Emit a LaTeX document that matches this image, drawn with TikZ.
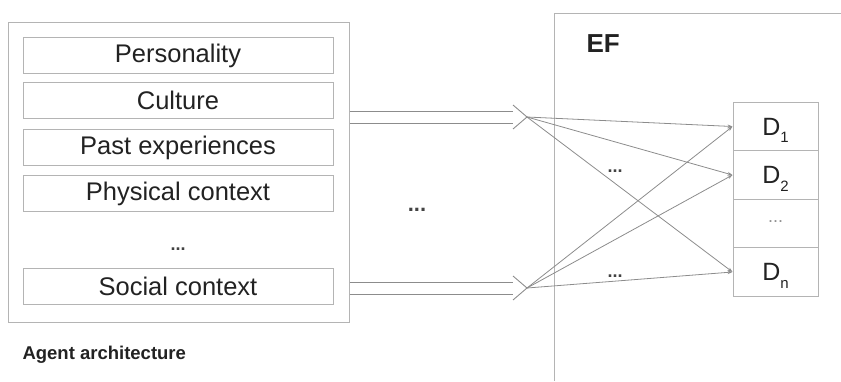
\documentclass[tikz,border=0pt]{standalone}
\usepackage{fontspec}
\setmainfont{Liberation Sans}
\usetikzlibrary{arrows.meta,calc}
\definecolor{boxline}{HTML}{B4B4B4}
\definecolor{arrline}{HTML}{8C8C8C}
\definecolor{ink}{HTML}{222222}
% lowered index for the decision labels
\newcommand{\dindex}[1]{\raisebox{-0.3em}{\fontsize{15}{16}\selectfont #1}}
\tikzset{
  frame/.style={draw=boxline, line width=1pt, rectangle, inner sep=0pt},
  factor/.style={frame, minimum width=310pt, minimum height=36pt,
    font=\fontsize{25.5}{28}\selectfont, text=ink},
  dcell/.style={frame, minimum width=85pt, minimum height=48.5pt},
  dtext/.style={font=\fontsize{25}{28}\selectfont, text=ink},
  dots/.style={font=\fontsize{22}{24}\selectfont\bfseries, text=ink!85},
  smalldots/.style={font=\fontsize{18}{20}\selectfont\bfseries, text=ink!85},
  fat/.style={draw=arrline, line width=0.9pt, line join=miter},
  link/.style={draw=arrline, line width=0.8pt, -{Stealth[length=5pt,width=3.5pt]}},
}
\begin{document}
\begin{tikzpicture}[x=1pt, y=-1pt]
  \useasboundingbox (0,0) rectangle (841,381);

  % agent architecture
  \node[frame, minimum width=341pt, minimum height=300pt] (agent) at (178.5,172) {};
  \node[factor] (pers) at (178,55.5) {Personality};
  \node[factor] (cult) at (178,100.5) {Culture};
  \node[factor] (past) at (178,147.5) {Past experiences};
  \node[factor] (phys) at (178,193.5) {Physical context};
  \node[smalldots] (adots) at (178,249) {...};
  \node[factor] (soc) at (178,286.5) {Social context};
  \node[anchor=west, font=\fontsize{18.5}{20}\selectfont\bfseries, text=ink] (alabel) at (19,355) {Agent architecture};

  % gap between the two parts
  \node[dots] (mdots) at (417,210) {...};

  % EF frame, open towards the page edges
  \draw[draw=boxline, line width=1pt] (554,381) -- (554,13) -- (841,13);
  \node[anchor=west, font=\fontsize{26}{28}\selectfont\bfseries, text=ink] (ef) at (583,44) {EF};

  % decision cells
  \node[dcell] (d1) at (775.5,126.5) {};
  \node[dcell] (d2) at (775.5,175) {};
  \node[dcell] (dd) at (775.5,223.5) {};
  \node[dcell] (dn) at (775.5,272) {};
  \node[dtext] (t1) at ([yshift=-4pt]d1.center) {D\dindex{1}};
  \node[dtext] (t2) at ([yshift=-4pt]d2.center) {D\dindex{2}};
  \node[font=\fontsize{18}{20}\selectfont, text=ink!50] (td) at ([yshift=2pt]dd.center) {...};
  \node[dtext] (tn) at ([yshift=-4pt]dn.center) {D\dindex{n}};

  % hollow arrow tips
  \coordinate (tipA) at (527,117);
  \coordinate (tipB) at (527,288);

  % hollow arrows from the agent frame
  \foreach \t in {tipA,tipB}{
    \draw[fat] ($(agent.east |- \t)+(0,-6)$) -- ($(\t)+(-14,-6)$);
    \draw[fat] ($(agent.east |- \t)+(0,6)$) -- ($(\t)+(-14,6)$);
    \draw[fat] ($(\t)+(-14,-12)$) -- (\t) -- ($(\t)+(-14,12)$);
  }

  % links to the decisions
  \foreach \d in {d1,d2,dn}{
    \draw[link] (tipA) -- (\d.west);
    \draw[link] (tipB) -- (\d.west);
  }
  \node[smalldots] (edots1) at (615,171) {...};
  \node[smalldots] (edots2) at (615,276) {...};
\end{tikzpicture}
\end{document}
